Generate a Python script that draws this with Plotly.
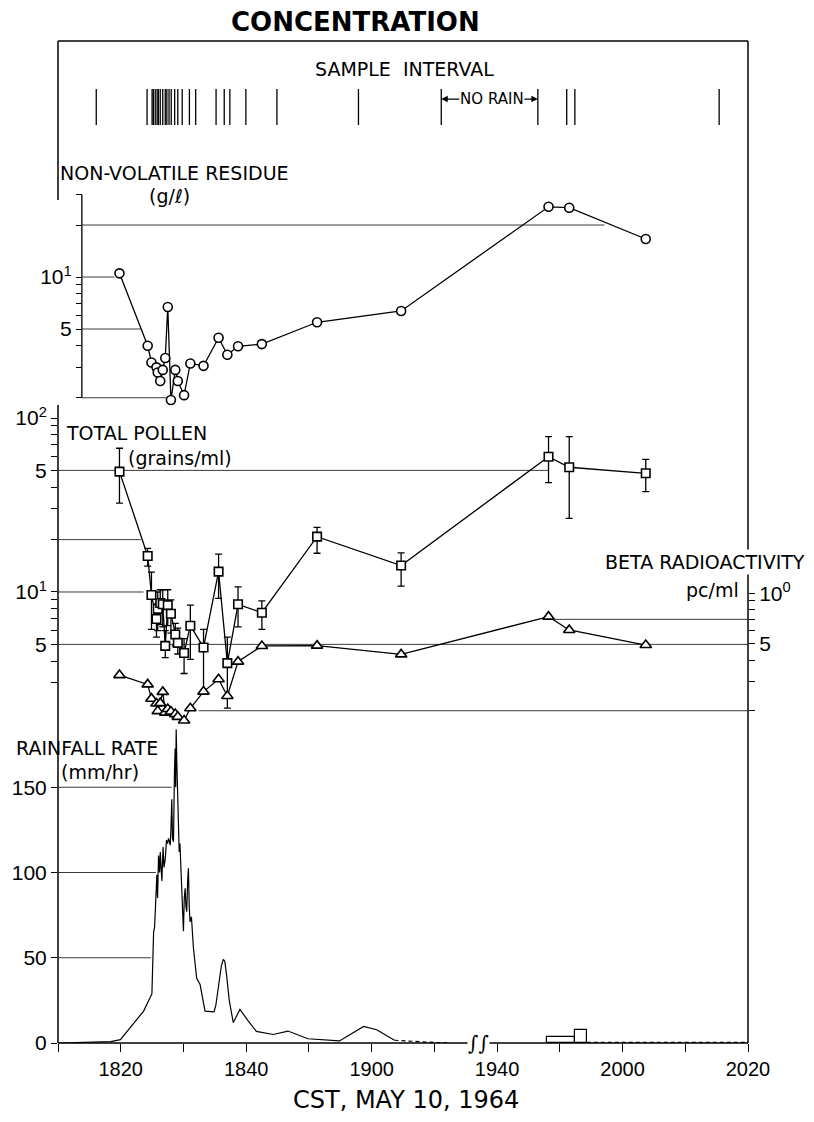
import math
import pandas as pd
import plotly.graph_objects as go

DAY = pd.Timestamp("1964-05-10 18:00")


def clock(minutes):
    """Minutes after 18:00 CST -> timestamps (None kept as gap)."""
    return [None if m is None else DAY + pd.Timedelta(minutes=m) for m in minutes]


# ---------------- data (time in minutes after 18:00 CST) ----------------
# sample interval boundaries
sample_bounds_min = [16.1, 24.2, 25.0, 25.2, 25.5, 25.8, 26.0, 26.3, 26.7, 27.1,
                     27.35, 27.7, 28.05, 28.6, 29.1, 29.8, 30.95, 31.95, 35.2,
                     36.5, 37.4, 39.95, 44.9, 57.9, 71.1,
                     106.5, 111.1, 112.4, 135.4]
no_rain_start, no_rain_end = 71.1, 106.5

# sample mid-times
sample_min = [19.8, 24.3, 24.9, 25.7, 25.9, 26.3, 26.7, 27.1, 27.5, 28.0, 28.7,
              29.1, 30.1, 31.1, 33.2, 35.6, 37.0, 38.7, 42.5, 51.3, 64.7,
              108.2, 111.5, 123.7]

# non-volatile residue (g/l)
residue = [10.5, 4.0, 3.2, 3.0, 2.8, 2.5, 2.9, 3.4, 6.7, 1.94, 2.9, 2.5, 2.07,
           3.16, 3.06, 4.45, 3.55, 3.97, 4.09, 5.47, 6.36, 25.5, 25.2, 16.6]

# total pollen (grains/ml) with upper / lower limits
pollen = [49.2, 16.1, 9.6, 7.0, 8.0, 8.65, 8.5, 4.9, 8.4, 7.5, 5.7, 5.1, 4.46,
          6.4, 4.8, 13.1, 3.9, 8.5, 7.6, 20.8, 14.2, 59.9, 52.1, 48.1]
pollen_hi = [67.0, 17.8, 13.0, 8.5, 10.0, 10.3, 10.3, 6.0, 10.3, 9.0, 6.6, 6.2,
             5.4, 8.4, 6.1, 16.5, 5.5, 10.7, 8.9, 23.5, 16.8, 78.1, 78.1, 57.9]
pollen_lo = [32.4, 14.1, 6.1, 5.5, 6.0, 6.5, 6.3, 4.2, 6.4, 5.8, 4.9, 4.4, 3.4,
             4.1, 2.7, 9.2, 2.15, 6.3, 6.1, 16.7, 10.8, 42.5, 26.5, 37.7]

# beta radioactivity (pc/ml)
beta = [0.326, 0.287, 0.236, 0.221, 0.199, 0.222, 0.259, 0.195, 0.205, 0.198,
        0.191, 0.184, 0.175, 0.207, 0.26, 0.308, 0.245, 0.392, 0.486, 0.488,
        0.433, 0.726, 0.605, 0.492]

# rainfall rate (mm/hr), recording gauge trace
rain_min = [10.0, 16.8, 18.4, 19.95, 23.65, 24.97, 25.24, 25.4, 25.76, 25.87,
            26.03, 26.2, 26.3, 26.56, 26.75, 26.9, 27.1, 27.3, 27.46, 27.62,
            27.89, 28.0, 28.14, 28.25, 28.41, 28.57, 28.68, 28.76, 28.84,
            28.94, 29.05, 29.2, 29.32, 29.44, 29.73, 29.84, 30.0, 30.13, 30.27,
            30.4, 30.52, 30.67, 30.79, 30.92, 31.06, 31.27, 31.59, 32.11,
            32.65, 33.44, 34.87, 35.16, 35.56, 36.03, 36.35, 36.59, 36.87,
            37.3, 37.94, 39.0, 40.32, 41.63, 44.29, 46.67, 49.84, 54.87, 58.73,
            60.8, 63.65]
rain = [0.0, 0.3, 0.8, 2.0, 18.7, 28.8, 65, 68, 98.6, 85, 110, 100, 112, 95,
        115, 103, 108, 119, 117, 120, 116, 125, 143, 120, 118, 160, 172.7, 150,
        184, 165, 151, 118, 112, 117, 89, 80, 65.5, 85, 90.8, 80, 77, 95,
        102.5, 80, 71, 74, 55.7, 38, 34.3, 18.7, 18.3, 22, 34, 45, 49, 48, 40,
        25, 11.9, 19.7, 13, 6.8, 5, 7, 2.5, 1.2, 9.7, 7.8, 1.6]
# estimated tail before the no-rain period, and after it
rain_tail_min = [63.65, 66.5, 70.0, 72.2]
rain_tail = [1.6, 0.9, 0.3, 0.1]
rain_late_min = [114.3, 140.0]
rain_late = [0.4, 0.4]
# gauge totals shown as blocks
rain_block_start = [108.0, 112.4]
rain_block_end = [112.4, 114.3]
rain_block = [3.3, 7.6]

# axis ticks
time_labels_min = [20, 40, 60, 100, 120, 140]
time_labels = ["1820", "1840", "1900", "1940", "2000", "2020"]
time_minor_min = [10, 30, 50, 70, 110, 130]

# ---------------- styling ----------------
INK = "black"
LW = 1.3
TXT = "DejaVu Sans"
NUM = "Liberation Sans"

# plotting frame in pixels (for placing text)
L, R, T, B = 54, 748, 41, 1043


def px(p):
    return (p - L) / (R - L)


def py(p):
    return (B - p) / (B - T)


fig = go.Figure()

# rainfall
fig.add_trace(go.Scatter(x=clock(rain_min), y=rain, mode="lines",
                         line=dict(color=INK, width=1.2), yaxis="y",
                         cliponaxis=False))
fig.add_trace(go.Scatter(x=clock(rain_tail_min), y=rain_tail, mode="lines",
                         line=dict(color=INK, width=1.2, dash="4px,3px"),
                         yaxis="y"))
fig.add_trace(go.Scatter(x=clock(rain_late_min), y=rain_late, mode="lines",
                         line=dict(color=INK, width=1.2, dash="4px,3px"),
                         yaxis="y"))
fig.add_trace(go.Bar(
    x=clock(rain_block_start), y=rain_block,
    width=[(e - s) * 60000 for s, e in zip(rain_block_start, rain_block_end)],
    offset=0, marker=dict(color="white", line=dict(color=INK, width=1.2)),
    yaxis="y"))

# sample interval marks
sx, sy = [], []
for b in clock(sample_bounds_min):
    sx += [b, b, None]
    sy += [0, 1, None]
fig.add_trace(go.Scatter(x=sx, y=sy, mode="lines",
                         line=dict(color=INK, width=1.3), yaxis="y5"))

# residue
fig.add_trace(go.Scatter(
    x=clock(sample_min), y=residue, mode="lines+markers", yaxis="y3",
    line=dict(color=INK, width=LW),
    marker=dict(symbol="circle", size=9, color="white",
                line=dict(color=INK, width=1.6)),
    cliponaxis=False))

# beta radioactivity
fig.add_trace(go.Scatter(
    x=clock(sample_min), y=beta, mode="lines+markers", yaxis="y4",
    line=dict(color=INK, width=LW),
    marker=dict(symbol="triangle-up", size=10, color="white",
                line=dict(color=INK, width=1.6)),
    cliponaxis=False))

# pollen with error bars
fig.add_trace(go.Scatter(
    x=clock(sample_min), y=pollen, mode="lines+markers", yaxis="y2",
    line=dict(color=INK, width=LW),
    marker=dict(symbol="square", size=8.5, color="white",
                line=dict(color=INK, width=1.6)),
    error_y=dict(type="data", symmetric=False,
                 array=[h - v for h, v in zip(pollen_hi, pollen)],
                 arrayminus=[v - l for v, l in zip(pollen, pollen_lo)],
                 color=INK, thickness=1.3, width=3.5),
    cliponaxis=False))

# ---------------- partial reference lines ----------------
RES_AXIS_MIN = 13.8
ref_lines = [
    ("y3", 20, RES_AXIS_MIN, 117.1), ("y3", 10, RES_AXIS_MIN, 19.0),
    ("y3", 5, RES_AXIS_MIN, 23.2), ("y3", 2, RES_AXIS_MIN, 27.3),
    ("y2", 50, 10, 108.3), ("y2", 20, 10, 23.2), ("y2", 10, 10, 23.65),
    ("y2", 5, 10, 140),
    ("y4", 0.7, 108.3, 140), ("y4", 0.2, 32.4, 140),
    ("y", 150, 10, 28.1), ("y", 100, 10, 25.6), ("y", 50, 10, 24.8),
]
shapes = []
for yref, val, m0, m1 in ref_lines:
    x0, x1 = clock([m0, m1])
    shapes.append(dict(type="line", xref="x", yref=yref, x0=x0, x1=x1,
                       y0=val, y1=val, layer="below",
                       line=dict(color="#3a3a3a", width=1)))

# residue scale line (2 .. 30 g/l)
shapes.append(dict(type="line", xref="paper", yref="y3", x0=px(78), x1=px(78),
                   y0=2, y1=30, line=dict(color=INK, width=1.3)))

# frame (left side is interrupted where the residue scale sits)
frame = [(0, 1, 1, 1), (1, 0, 1, 1), (0, 0, 1, 0),
         (0, py(200), 0, 1), (0, 0, 0, py(405))]
for x0, y0, x1, y1 in frame:
    shapes.append(dict(type="line", xref="paper", yref="paper", x0=x0, y0=y0,
                       x1=x1, y1=y1, line=dict(color=INK, width=1.5)))

fig.update_layout(shapes=shapes)

# ---------------- axes ----------------
tick_common = dict(ticks="outside", ticklen=6, tickwidth=1.2, tickcolor=INK,
                   showgrid=False, zeroline=False)
minor_common = dict(ticks="outside", ticklen=6, tickwidth=1.2, tickcolor=INK,
                    showgrid=False)

fig.update_layout(
    width=814, height=1122,
    margin=dict(l=L, r=814 - R, t=T, b=1122 - B),
    paper_bgcolor="white", plot_bgcolor="rgba(0,0,0,0)",
    showlegend=False, bargap=0,
    font=dict(family=TXT, color=INK),
    xaxis=dict(type="date", range=clock([10, 140]),
               rangebreaks=[dict(bounds=clock([77, 97]))],
               tickvals=clock(time_labels_min), ticktext=time_labels,
               ticks="outside", ticklen=8, tickwidth=1.2, tickcolor=INK,
               minor=dict(tickvals=clock(time_minor_min), ticks="outside",
                          ticklen=8, tickwidth=1.2, tickcolor=INK,
                          showgrid=False),
               showline=False, showgrid=False, zeroline=False,
               tickfont=dict(family=NUM, size=20), anchor="y"),
    yaxis=dict(domain=[0, 0.3233], range=[0, 190],
               tickvals=[0, 50, 100, 150], showline=False,
               tickfont=dict(family=NUM, size=21), **tick_common),
    yaxis2=dict(type="log", domain=[py(713.6), py(418)],
                range=[math.log10(2), 2], anchor="x",
                tickvals=[5, 10, 50, 100],
                ticktext=["5", "10<sup>1</sup>", "5", "10<sup>2</sup>"],
                minor=dict(tickvals=[3, 4, 6, 7, 8, 9, 20, 30, 40, 60, 70, 80,
                                     90], **minor_common),
                showline=False, tickfont=dict(family=NUM, size=21),
                **tick_common),
    yaxis3=dict(type="log", domain=[py(403.6), py(194.6)],
                range=[math.log10(1.85), math.log10(30)], anchor="free",
                position=px(78), showline=False,
                tickvals=[5, 10], ticktext=["5", "10<sup>1</sup>"],
                minor=dict(tickvals=[2, 3, 4, 6, 7, 8, 9, 20, 30],
                           **minor_common),
                tickfont=dict(family=NUM, size=21), **tick_common),
    yaxis4=dict(type="log", domain=[py(724.8), py(593.3)],
                range=[math.log10(0.165), 0], anchor="x", side="right",
                tickvals=[0.5, 1.0], ticktext=["5", "10<sup>0</sup>"],
                minor=dict(tickvals=[0.2, 0.3, 0.4, 0.6, 0.7, 0.8, 0.9],
                           **minor_common),
                showline=False, tickfont=dict(family=NUM, size=21),
                **tick_common),
    yaxis5=dict(domain=[py(125), py(89)], range=[0, 1], visible=False,
                fixedrange=True),
)

# ---------------- text ----------------
def ann(text, x, y, size=19, xanchor="left", **kw):
    d = dict(text=text, x=x, y=y, xref="paper", yref="paper",
             showarrow=False, xanchor=xanchor, yanchor="middle",
             font=dict(family=TXT, size=size, color=INK))
    d.update(kw)
    fig.add_annotation(**d)


ann("<b>CONCENTRATION</b>", px(353), py(22), size=26, xanchor="center")
ann("SAMPLE  INTERVAL", px(403), py(69), size=19, xanchor="center")
ann("NON-VOLATILE RESIDUE", px(54), py(173))
ann("(g/<i>ℓ</i>)", px(166), py(196), xanchor="center")
ann("TOTAL POLLEN", px(60), py(433))
ann("(grains/ml)", px(122), py(458))
ann("BETA RADIOACTIVITY", px(602), py(562), bgcolor="white")
ann("pc/ml", px(741), py(590), xanchor="right")
ann("RAINFALL RATE", px(10), py(748))
ann("(mm/hr)", px(55), py(772))
ann("CST, MAY 10, 1964", px(404), py(1100), size=24, xanchor="center")

# "NO RAIN" with arrows pointing to the bounding sample marks
for word, m, dx in (("NO", no_rain_start, 30), ("RAIN", no_rain_end, -32)):
    fig.add_annotation(x=clock([m])[0], y=0.72, xref="x", yref="y5",
                       text=word, showarrow=True, ax=dx, ay=0, arrowhead=2,
                       arrowsize=1, arrowwidth=1.3, arrowcolor=INK,
                       standoff=0, borderpad=0,
                       font=dict(family=TXT, size=15, color=INK))

# break symbol on the time axis
fig.add_annotation(x=clock([97.02])[0], y=0, xref="x", yref="paper",
                   text="∫∫", showarrow=False, bgcolor="white",
                   font=dict(family="DejaVu Serif", size=20, color=INK),
                   xanchor="center", yanchor="middle", borderpad=0)

fig.write_html("out.html")
